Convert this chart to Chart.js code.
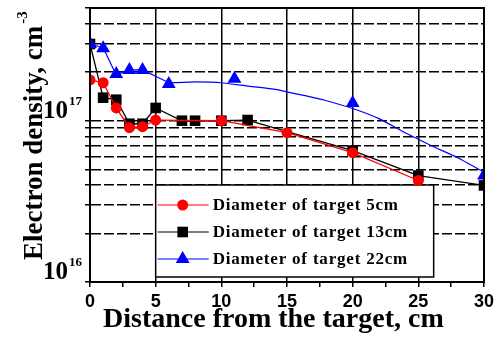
<!DOCTYPE html>
<html>
<head>
<meta charset="utf-8">
<script src="https://cdn.jsdelivr.net/npm/chart.js@4.4.1/dist/chart.umd.min.js"></script>
<style>
html,body{margin:0;padding:0;background:#fff;}
canvas{display:block;}
</style>
</head>
<body>
<canvas id="c" width="498" height="341"></canvas>
<script>
// Electron density (cm^-3) versus distance from the target (cm)
const legendLabels = ['Diameter of target 5cm', 'Diameter of target 13cm', 'Diameter of target 22cm'];

const dist5 = [0, 1, 2, 3, 4, 5, 10, 15, 20, 25];
const dens5 = [1.79e17, 1.72e17, 1.20e17, 0.905e17, 0.918e17, 1.01e17, 1.0e17, 0.843e17, 0.634e17, 0.426e17];

const dist13 = [0, 1, 2, 3, 4, 5, 7, 8, 10, 12, 20, 25, 30];
const dens13 = [2.99e17, 1.39e17, 1.35e17, 0.958e17, 0.958e17, 1.20e17, 1.0e17, 1.0e17, 1.0e17, 1.01e17, 0.653e17, 0.457e17, 0.397e17];

const dist22 = [0, 1, 2, 3, 4, 6, 11, 20, 30];
const dens22 = [2.99e17, 2.81e17, 1.95e17, 2.06e17, 2.06e17, 1.69e17, 1.82e17, 1.29e17, 0.458e17];

// smoothed curve drawn through the 22cm series
const curveDist22 = [0, 1, 2, 3, 4, 6, 8, 10, 12, 14, 16, 18, 20, 22, 24, 26, 28, 30];
const curveDens22 = [2.99e17, 2.81e17, 1.95e17, 2.06e17, 2.06e17, 1.73e17, 1.74e17, 1.72e17, 1.64e17, 1.57e17, 1.45e17, 1.33e17, 1.19e17, 1.03e17, 0.843e17, 0.70e17, 0.59e17, 0.48e17];

// horizontal grid: every integer multiple within each decade
const yGridValues = [1e16, 2e16, 3e16, 4e16, 5e16, 6e16, 7e16, 8e16, 9e16, 1e17, 2e17, 3e17, 4e17, 5e17];
const yTickValues = [1e16, 1e17];
const yTickBase = ['10', '10'];
const yTickExp = ['16', '17'];

const xTitle = 'Distance from the target, cm';
const yTitle = 'Electron density, cm';
const yTitleExp = '-3';

const toPoints = (xs, ys) => xs.map((x, i) => ({x: x, y: ys[i]}));

const RED = '#ff0000', BLACK = '#000000', BLUE = '#0000ff';
const SERIF = '"Liberation Serif", "Times New Roman", serif';

const legendItems = [
  {label: legendLabels[0], color: RED, style: 'circle', radius: 5.5},
  {label: legendLabels[1], color: BLACK, style: 'rect', radius: 7.5},
  {label: legendLabels[2], color: BLUE, style: 'triangle', radius: 8}
];

// legend box sitting inside the plot, under the data
const legendBox = {
  id: 'legendBox',
  beforeDatasetsDraw(chart) {
    const ctx = chart.ctx, area = chart.chartArea, xs = chart.scales.x;
    const left = xs.getPixelForValue(5);
    const right = left + 278;
    const top = area.bottom - 97;
    const bottom = area.bottom - 5;
    ctx.save();
    ctx.fillStyle = '#fff';
    ctx.fillRect(left, top, right - left, bottom - top);
    ctx.lineWidth = 1.5;
    ctx.strokeStyle = '#000';
    ctx.strokeRect(left, top, right - left, bottom - top);
    legendItems.forEach((it, i) => {
      const y = top + 20 + i * 27;
      ctx.strokeStyle = it.color;
      ctx.lineWidth = 1.2;
      ctx.beginPath();
      ctx.moveTo(left + 2, y);
      ctx.lineTo(left + 53, y);
      ctx.stroke();
      ctx.fillStyle = it.color;
      Chart.helpers.drawPoint(ctx, {pointStyle: it.style, radius: it.radius, rotation: 0, borderWidth: 0}, left + 27, y);
      ctx.fillStyle = '#000';
      ctx.font = 'bold 17px ' + SERIF;
      ctx.letterSpacing = '0.8px';
      ctx.textAlign = 'left';
      ctx.textBaseline = 'middle';
      ctx.fillText(it.label, left + 57, y + 1);
    });
    ctx.restore();
  }
};

// frame, axis titles and power-of-ten tick labels
const decorations = {
  id: 'decorations',
  afterDraw(chart) {
    const ctx = chart.ctx, area = chart.chartArea, ys = chart.scales.y;
    ctx.save();
    ctx.strokeStyle = '#000';
    ctx.lineWidth = 2;
    ctx.strokeRect(area.left, area.top, area.right - area.left, area.bottom - area.top);

    ctx.fillStyle = '#000';
    ctx.textBaseline = 'alphabetic';
    ctx.textAlign = 'left';
    yTickValues.forEach((v, i) => {
      const py = ys.getPixelForValue(v);
      ctx.font = 'bold 13px ' + SERIF;
      const wExp = ctx.measureText(yTickExp[i]).width;
      ctx.font = 'bold 25px ' + SERIF;
      const wBase = ctx.measureText(yTickBase[i]).width;
      const xEnd = area.left - 8;
      const xBase = xEnd - wExp - 1 - wBase;
      ctx.fillText(yTickBase[i], xBase, py - 3);
      ctx.font = 'bold 13px ' + SERIF;
      ctx.fillText(yTickExp[i], xBase + wBase + 1, py - 16);
    });

    ctx.font = 'bold 28px ' + SERIF;
    ctx.fillText(xTitle, 103, 327);

    ctx.translate(42, 260);
    ctx.rotate(-Math.PI / 2);
    ctx.font = 'bold 27px ' + SERIF;
    ctx.fillText(yTitle, 0, 0);
    const w = ctx.measureText(yTitle).width;
    ctx.font = 'bold 15px ' + SERIF;
    ctx.fillText(yTitleExp, w + 2, -15);
    ctx.restore();
  }
};

new Chart(document.getElementById('c'), {
  type: 'line',
  data: {
    datasets: [
      {
        label: legendLabels[2], data: toPoints(dist22, dens22), showLine: false,
        pointStyle: 'triangle', pointRadius: 8, pointBackgroundColor: BLUE, pointBorderWidth: 0,
        borderColor: BLUE, order: 0
      },
      {
        label: 'curve22', data: toPoints(curveDist22, curveDens22),
        borderColor: BLUE, borderWidth: 1.2, pointRadius: 0, tension: 0.15, order: 1
      },
      {
        label: legendLabels[0], data: toPoints(dist5, dens5),
        borderColor: RED, borderWidth: 1.3, pointStyle: 'circle', pointRadius: 5.5,
        pointBackgroundColor: RED, pointBorderWidth: 0, tension: 0, order: 2
      },
      {
        label: legendLabels[1], data: toPoints(dist13, dens13),
        borderColor: BLACK, borderWidth: 1.3, pointStyle: 'rect', pointRadius: 7.5,
        pointBackgroundColor: BLACK, pointBorderWidth: 0, tension: 0, order: 3
      }
    ]
  },
  options: {
    responsive: false,
    animation: false,
    devicePixelRatio: 1,
    events: [],
    layout: {padding: {top: 7, right: 13, left: 0, bottom: 0}},
    plugins: {legend: {display: false}, tooltip: {enabled: false}},
    scales: {
      x: {
        type: 'linear', min: 0, max: 30,
        afterFit: s => { s.height = 59; },
        ticks: {
          stepSize: 2.5, autoSkip: false, maxRotation: 0, padding: 4, color: '#000',
          font: {family: '"Liberation Sans", Arial, sans-serif', weight: 'bold', size: 18},
          callback: v => (v % 5 === 0 ? String(v) : '')
        },
        grid: {
          color: c => (c.tick && c.tick.value % 5 === 0 ? '#000' : 'rgba(0,0,0,0)'),
          lineWidth: 1.5, tickColor: '#000', tickLength: 5, tickWidth: 1.5
        },
        border: {display: true, color: '#000', width: 2}
      },
      y: {
        type: 'logarithmic', min: 1e16, max: 5e17,
        afterFit: s => { s.width = 90; },
        afterBuildTicks: s => { s.ticks = yGridValues.map(v => ({value: v})); },
        ticks: {display: false, autoSkip: false},
        grid: {color: '#000', lineWidth: 1.5, tickColor: '#000', tickLength: 5, tickWidth: 1.5},
        border: {display: true, color: '#000', width: 2, dash: [10, 3]}
      }
    }
  },
  plugins: [legendBox, decorations]
});
</script>
</body>
</html>
